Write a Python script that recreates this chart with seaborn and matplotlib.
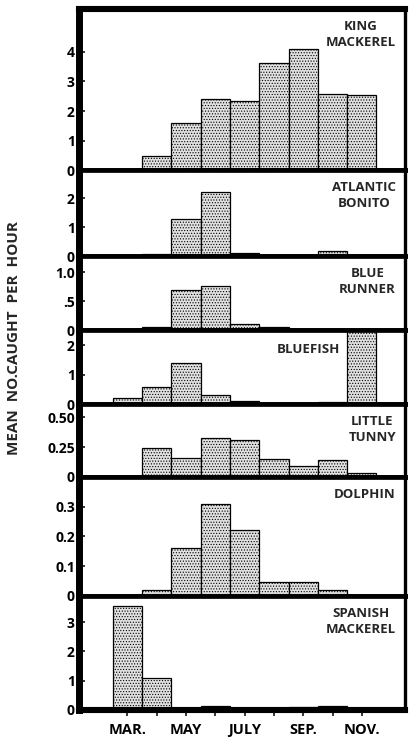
import matplotlib
matplotlib.use("Agg")
import matplotlib.pyplot as plt
import seaborn as sns
import pandas as pd

# Monthly catch rates (mean number caught per hour), March to November
months = ["MAR", "APR", "MAY", "JUN", "JUL", "AUG", "SEP", "OCT", "NOV"]
king_mackerel = [0, 0.50, 1.60, 2.40, 2.33, 3.64, 4.08, 2.57, 2.53]
atlantic_bonito = [0, 0.08, 1.27, 2.20, 0.10, 0.06, 0.06, 0.19, 0]
blue_runner = [0, 0.05, 0.70, 0.76, 0.11, 0.06, 0, 0, 0]
bluefish = [0.22, 0.60, 1.41, 0.33, 0.10, 0, 0, 0.09, 2.50]
little_tunny = [0, 0.245, 0.155, 0.33, 0.31, 0.15, 0.095, 0.145, 0.035]
dolphin = [0, 0.019, 0.16, 0.31, 0.22, 0.046, 0.046, 0.019, 0]
spanish_mackerel = [3.55, 1.08, 0.08, 0.12, 0, 0, 0.10, 0.13, 0]

species = ["KING\nMACKEREL", "ATLANTIC\nBONITO", "BLUE\nRUNNER", "BLUEFISH",
           "LITTLE\nTUNNY", "DOLPHIN", "SPANISH\nMACKEREL"]
series = [king_mackerel, atlantic_bonito, blue_runner, bluefish,
          little_tunny, dolphin, spanish_mackerel]
y_ticks = [[0, 1, 2, 3, 4], [0, 1, 2], [0, 0.5, 1.0], [0, 1, 2],
           [0, 0.25, 0.50], [0, 0.1, 0.2, 0.3], [0, 1, 2, 3]]
y_ticklabels = [["0", "1", "2", "3", "4"], ["0", "1", "2"], ["0", ".5", "1.0"],
                ["0", "1", "2"], ["0", "0.25", "0.50"],
                ["0", "0.1", "0.2", "0.3"], ["0", "1", "2", "3"]]
y_top = [5.45, 2.95, 1.27, 2.50, 0.61, 0.40, 3.9]
x_labels = ["MAR.", "", "MAY", "", "JULY", "", "SEP.", "", "NOV."]

sns.set_style("white")
plt.rcParams["font.family"] = ["Open Sans", "DejaVu Sans"]
plt.rcParams["hatch.color"] = "#9c9c9c"
plt.rcParams["hatch.linewidth"] = 0.5

fig, axes = plt.subplots(
    7, 1, figsize=(4.09, 7.41), dpi=100, sharex=True,
    gridspec_kw=dict(height_ratios=[161.5, 86, 74, 74, 72.5, 119, 114], hspace=0),
)
fig.subplots_adjust(left=0.193, right=0.990, top=0.988, bottom=0.042)

for i, ax in enumerate(axes):
    df = pd.DataFrame({"month": months, "rate": series[i]})
    sns.barplot(data=df, x="month", y="rate", order=months, ax=ax, width=1.0,
                color="#e0e0e0", saturation=1, edgecolor="black", linewidth=0.9,
                hatch="......")
    ax.set_ylim(0, y_top[i])
    ax.set_xlim(-1.655, 9.47)
    ax.set_yticks(y_ticks[i])
    ax.set_yticklabels(y_ticklabels[i], fontsize=10, fontweight="bold")
    ax.tick_params(axis="y", direction="in", length=4, width=1.1, pad=3,
                   left=True, colors="black")
    ax.set_xlabel("")
    ax.set_ylabel("")
    ax.spines["left"].set_linewidth(5)
    ax.spines["right"].set_linewidth(2.4)
    ax.spines["top"].set_linewidth(3.4)
    ax.spines["bottom"].set_linewidth(3.4)
    for s in ax.spines.values():
        s.set_color("black")
        s.set_visible(True)
    if species[i] == "BLUEFISH":
        ax.annotate(species[i], xy=(0.80, 1), xycoords="axes fraction",
                    xytext=(0, -9), textcoords="offset points", ha="right",
                    va="top", fontsize=9.5, fontweight="bold")
    else:
        ax.annotate(species[i], xy=(1, 1), xycoords="axes fraction",
                    xytext=(-6.5, -8), textcoords="offset points", ha="right",
                    va="top", multialignment="center", fontsize=9.5,
                    fontweight="bold", linespacing=1.3)

axes[0].spines["top"].set_linewidth(4.4)
axes[-1].spines["bottom"].set_linewidth(4.4)

bottom = axes[-1]
bottom.set_xticks(range(len(months)))
bottom.set_xticklabels(x_labels, fontsize=10.5, fontweight="bold")
bottom.tick_params(axis="x", direction="out", length=4.5, width=1.1, pad=5,
                   bottom=True, colors="black")

fig.text(14 / 409, 1 - 338 / 741, "MEAN  NO.CAUGHT  PER  HOUR", rotation=90,
         ha="center", va="center", fontsize=11, fontweight="bold")

fig.savefig("out.png", dpi=100)
